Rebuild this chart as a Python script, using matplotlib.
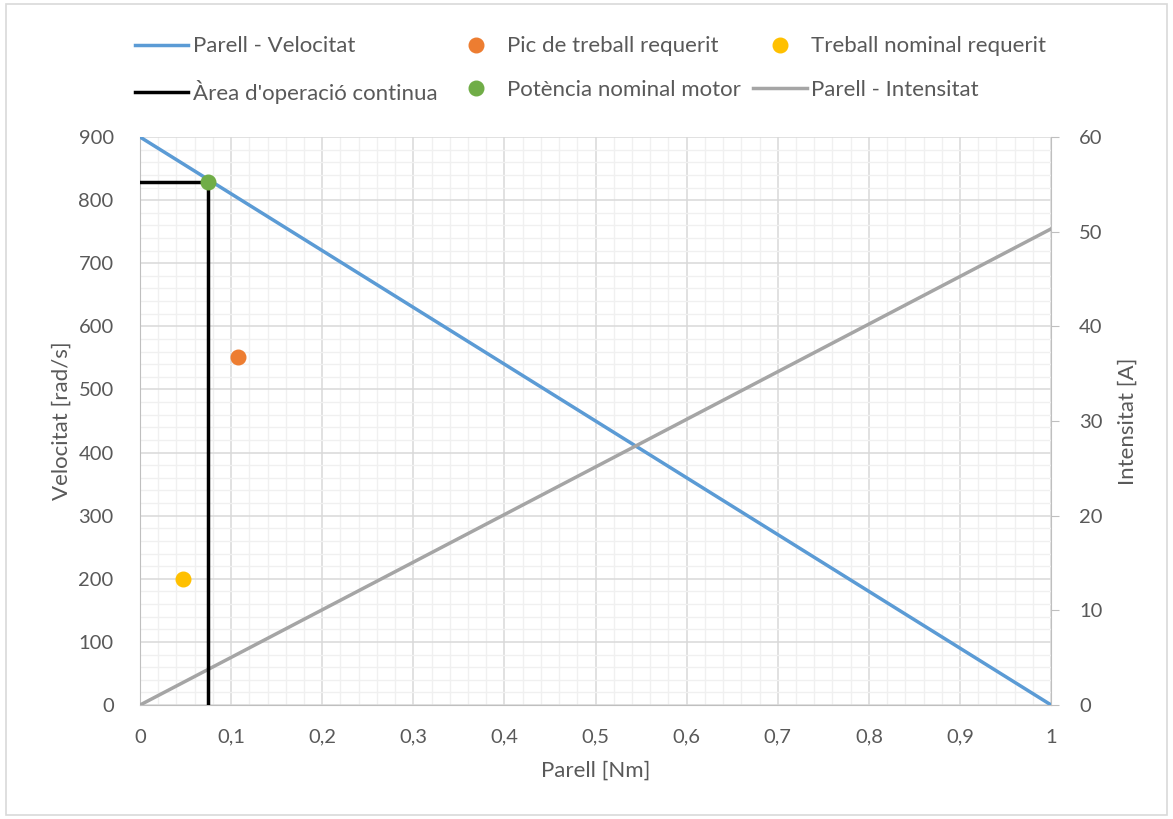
import matplotlib
matplotlib.use("Agg")
import matplotlib.pyplot as plt
from matplotlib.ticker import MultipleLocator, FuncFormatter
from matplotlib.patches import Rectangle

plt.rcParams['font.family'] = ['Lato', 'DejaVu Sans']

# data
parell_vel = [0, 1]
velocitat = [900, 0]
parell_int = [0, 1]
intensitat = [0, 50.3]
area_x = [0, 0.075, 0.075]
area_y = [829, 829, 0]
pic_x, pic_y = [0.108], [551]
nominal_x, nominal_y = [0.047], [200]
potencia_x, potencia_y = [0.075], [829]

txt = '#595959'
fig = plt.figure(figsize=(11.73, 8.19), dpi=100)
fig.patches.append(Rectangle((0.005, 0.005), 0.99, 0.99, transform=fig.transFigure,
                             fill=False, edgecolor='#d9d9d9', lw=1.2))

ax = fig.add_axes([0.1194, 0.1392, 0.7767, 0.6935])
ax2 = ax.twinx()
ax.set_zorder(ax2.get_zorder() + 1)
ax.patch.set_visible(False)
ax.set_xlim(0, 1)
ax.set_ylim(0, 900)
ax2.set_ylim(0, 60)

l1, = ax.plot(parell_vel, velocitat, color='#5b9bd5', lw=2.5, label='Parell - Velocitat', zorder=3)
# intensity line drawn in the front axes but with the secondary axis scale
l3, = ax.plot(parell_int, intensitat, color='#a5a5a5', lw=2.5, label='Parell - Intensitat',
              transform=ax2.transData, zorder=3)
l2, = ax.plot(area_x, area_y, color='black', lw=2.5, label="Àrea d'operació continua", zorder=4)
p1, = ax.plot(pic_x, pic_y, 'o', color='#ed7d31', ms=10.5, label='Pic de treball requerit', zorder=5)
p2, = ax.plot(potencia_x, potencia_y, 'o', color='#70ad47', ms=10.5, label='Potència nominal motor', zorder=5)
p3, = ax.plot(nominal_x, nominal_y, 'o', color='#ffc000', ms=10.5, label='Treball nominal requerit', zorder=5)

ax.set_xlim(0, 1)
ax.set_ylim(0, 900)
ax.xaxis.set_major_locator(MultipleLocator(0.1))
ax.xaxis.set_minor_locator(MultipleLocator(0.02))
ax.yaxis.set_major_locator(MultipleLocator(100))
ax.yaxis.set_minor_locator(MultipleLocator(20))
ax2.yaxis.set_major_locator(MultipleLocator(10))
ax.xaxis.set_major_formatter(FuncFormatter(lambda v, p: ('%g' % round(v, 2)).replace('.', ',')))

ax.grid(which='major', color='#d9d9d9', lw=1.1)
ax.grid(which='minor', color='#f0f0f0', lw=1.0)
ax.set_axisbelow(True)

for a in (ax, ax2):
    for s in a.spines.values():
        s.set_visible(False)
ax2.spines['right'].set_visible(True)
ax2.spines['right'].set_color('#bfbfbf')
ax.spines['bottom'].set_visible(True)
ax.spines['bottom'].set_color('#bfbfbf')
ax.spines['left'].set_visible(True)
ax.spines['left'].set_color('#bfbfbf')

ax.tick_params(which='both', length=0, labelsize=14.5, labelcolor=txt)
ax.tick_params(axis='y', pad=19)
ax.tick_params(axis='x', pad=17)
ax2.tick_params(axis='y', length=6, color='#bfbfbf', labelsize=14.5, labelcolor=txt, pad=14)

ax.set_xlabel('Parell [Nm]', fontsize=16, color=txt, labelpad=11)
ax.set_ylabel('Velocitat [rad/s]', fontsize=16, color=txt, labelpad=5)
ax2.set_ylabel('Intensitat [A]', fontsize=16, color=txt, labelpad=11)

handles = [l1, l2, p1, p2, p3, l3]
leg = fig.legend(handles=handles, ncol=3, loc='upper left', bbox_to_anchor=(0.098, 0.98),
                 frameon=False, fontsize=16, labelcolor=txt, handlelength=2.4,
                 handletextpad=0.2, columnspacing=0.55, labelspacing=1.05)

fig.savefig('out.png', dpi=100)
